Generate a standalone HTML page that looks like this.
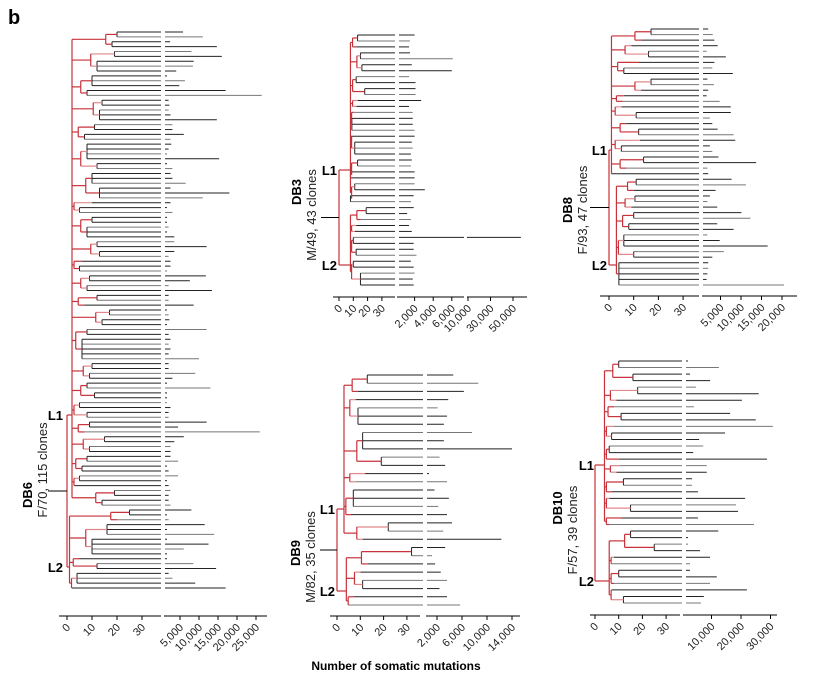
<!DOCTYPE html>
<html><head><meta charset="utf-8"><style>
html,body{margin:0;padding:0;background:#fff;}
svg{display:block;font-family:"Liberation Sans",Arial,sans-serif;}
</style></head><body>
<svg id="fig" width="824" height="684" viewBox="0 0 824 684">
<text x="8" y="24" font-size="20" font-weight="bold">b</text>
<text x="396" y="670" font-size="12" font-weight="bold" text-anchor="middle">Number of somatic mutations</text>
</svg>
<script>
// ---- data ----
const db6DepthRuns = [[20,2],[18,2],[19,2],[12,3],[10,3],[8,2],[14,2],[13,3],[11,2],[7,2],[8,4],[12,2],[10,3],[13,3],[10,1],[5,2],[10,2],[8,3],[12,2],[13,2],[6,1],[5,2],[9,2],[8,2],[12,2],[7,1],[17,2],[14,2],[8,2],[6,5],[10,2],[9,2],[8,2],[11,2],[5,2],[8,2],[9,2],[7,1],[15,2],[9,2],[8,2],[6,2],[5,2],[3,1],[19,2],[14,2],[25,2],[20,1],[16,3],[10,4],[5,1],[12,2],[4,3],[2,1]];
const db6L1 = 98;
const db6Right = [5.8,11,2.4,14.7,8,16,8.6,8.4,4,1.5,6.3,4.8,17,26.5,2,2.2,2,2.5,14.7,3,3,6,2.5,2.7,2,1.5,15.3,1,3,2.5,3,6.5,2.5,18,11,2.5,1,3,1.5,1.5,2,1.5,3.5,3.5,12,3.5,2,2.5,2.5,1.5,11.8,7.6,2,13.4,2,2,8.6,1.5,2,2.2,1.5,12,2,2.5,2,2.5,2,10,2,2,9,3,1.5,13,1,1.5,1,2.5,2,2,12,4.5,26,6,3.5,2.5,2.5,2.5,4.5,1.5,2,4.5,1,2,2.5,2,2,2.5,8,1,2,11.5,1,14,1,12.5,6,1.5,1,8.5,14.5,2,3,9,17];
const db3DepthRuns = [[13,2],[12,1],[15,2],[16,2],[12,2],[18,2],[13,1],[12,1],[10,1],[9,3],[8,1],[11,3],[13,2],[8,2],[11,2],[8,2],[19,2],[15,1],[12,1],[11,1],[10,2],[12,2],[10,2],[15,3]];
const db3L1 = 29;
const db3Right = [2.0,1.5,1.4,1.5,6.1,1.7,6.0,1.4,2.1,2.1,2.1,2.7,1.4,1.8,1.8,1.8,2.0,2.0,1.7,1.8,1.6,1.7,1.6,2.0,2.0,2.0,3.1,1.9,1.6,1.9,1.2,1.6,1.4,1.7,57,1.9,1.9,2.2,1.6,1.9,2.0,1.8,1.9];
const db8DepthRuns = [[17,2],[13,1],[9,1],[16,2],[12,1],[6,2],[17,2],[13,1],[6,1],[5.5,1],[5,1],[11,2],[7,1],[12,2],[12.5,1],[5,2],[14,2],[7,1],[1,1],[11,2],[10,1],[10.5,2],[9,1],[10,2],[8,2],[6,3],[10,2],[4,5]];
const db8L1 = 27;
const db8Right = [2,3.1,3.5,4.3,1.6,6.3,3.5,3,8,1.8,3.4,2,1.6,4.8,7.5,7.5,2.4,3,4.3,8.2,8.6,2.4,3,4.5,13.7,1.8,2.0,7.7,11.2,3.8,2.4,1.8,4.2,10.1,12.3,4.2,8.2,1.8,4.8,16.5,5.8,3,2,2,1.8,1.6,20.5];
const db9DepthRuns = [[13,2],[9,1],[8,1],[9,3],[11,3],[19,2],[12,1],[8,1],[7,3],[6,1],[22,2],[11,1],[32,2],[13,1],[10,1],[11,2],[7,1],[5,1]];
const db9L1 = 21;
const db9Right = [4.6,8.6,6.3,3.8,2.1,3.6,3.1,7.6,3.1,14,2.4,3.3,0.5,3.6,1.6,3.9,2.2,3.6,4.4,3,12.3,3.3,1.2,1.7,2.6,3.6,2.4,3.6,5.7];
const db10DepthRuns = [[10,2],[16,2],[18,2],[9,1],[8,1],[11,2],[8,1],[7,2],[6,2],[10,1],[10.5,1],[9,1],[12,2],[7,1],[6,1],[15,2],[11,1],[6,1],[15,2],[25,2],[8,1],[7,1],[10,2],[8,1],[7,1],[12,2]];
const db10L1 = 26;
const db10Right = [1.9,12.5,2.7,9.5,4.7,26,20.3,4,16.3,25,30.8,14.6,5.8,7.2,3.8,28.8,8.4,8.4,3.4,3.4,5.4,21.4,18.3,19,5.4,24.4,12.3,1,1.6,6.1,9.5,2.7,2.7,11.8,9.5,22,7.4,6.4];
const leftTicks = [0,10,20,30];
const db6Ticks = [5000,10000,15000,20000,25000];
const db3MidTicks = [2000,4000,6000];
const db3BigTicks = [10000,30000,50000];
const db8Ticks = [5000,10000,15000,20000];
const db9Ticks = [2000,6000,10000,14000];
const db10Ticks = [10000,20000,30000];

// ---- drawing ----
const NS = "http://www.w3.org/2000/svg";
const svg = document.getElementById('fig');
function mk(tag, attrs, parent){
  const e = document.createElementNS(NS, tag);
  for (const k in attrs) e.setAttribute(k, attrs[k]);
  (parent||svg).appendChild(e);
  return e;
}
function expand(runs){ const out=[]; runs.forEach(r=>{for(let i=0;i<r[1];i++) out.push(r[0]);}); return out; }
function fmt(v){ return v.toLocaleString('en-US'); }
const RED = "#c8323a", RED2 = "#e2878a";

function panel(c){
  const g = mk('g', {});
  
  
  const depths = expand(c.runs);
  const n = depths.length;
  const xd = d => c.x0 + d * c.ppu;
  const xr = v => c.r0 + v * c.ppk;
  const ys = i => c.yTop + i * (c.yBot - c.yTop) / (n - 1);
  for (let i=0;i<n;i++){
    const y = ys(i);
    const col = i%3===1 ? "#777" : "#222";
    const l = mk('line', {x1:xd(depths[i]), x2:c.brk-1, y1:y, y2:y, stroke:col, 'stroke-width':1}, g);
    
    
    const v = c.right[i];
    let end;
    if (c.big && v > c.bigFrom){
      mk('line', {x1:c.brk+3, x2:c.midEnd, y1:y, y2:y, stroke:"#222"}, g);
      end = c.bigX(v);
      const s = mk('line', {x1:c.bigStart, x2:end, y1:y, y2:y, stroke:"#222"}, g);
      
      
    } else {
      end = Math.max(xr(v), c.brk+5);
      const s = mk('line', {x1:c.brk+3, x2:end, y1:y, y2:y, stroke:col}, g);
      
      
    }
  }
  const clades = [{from:0,to:c.nL1,cd:c.cd1,ly:c.L1y},{from:c.nL1,to:n,cd:c.cd2,ly:c.L2y}];
  clades.forEach(cl=>{
    let i=cl.from; const runs=[];
    while(i<cl.to){
      let j=i; while(j+1<cl.to && depths[j+1]===depths[i]) j++;
      const x = xd(depths[i]);
      if (j>i) mk('line', {x1:x,x2:x,y1:ys(i),y2:ys(j),stroke:"#222"}, g);
      runs.push({d:depths[i], m:(ys(i)+ys(j))/2});
      i=j+1;
    }
    const mids=[cl.ly];
    for (let k=0;k<runs.length;k+=2){
      const a=runs[k], b=runs[k+1];
      if (!b){
        if (a.d>cl.cd) mk('line',{x1:xd(cl.cd),x2:xd(a.d),y1:a.m,y2:a.m,stroke:RED,'stroke-width':1.2},g);
        mids.push(a.m); continue;
      }
      const p = Math.max(cl.cd+0.8, Math.min(a.d,b.d)-2.5);
      [a,b].forEach(r=>{ if (r.d>p) mk('line',{x1:xd(p),x2:xd(r.d),y1:r.m,y2:r.m,stroke:(k%4? RED2:RED),'stroke-width':1.2},g); });
      mk('line',{x1:xd(p),x2:xd(p),y1:a.m,y2:b.m,stroke:RED,'stroke-width':1.2},g);
      const pm=(a.m+b.m)/2;
      mk('line',{x1:xd(cl.cd),x2:xd(p),y1:pm,y2:pm,stroke:RED,'stroke-width':1.2},g);
      mids.push(pm);
    }
    const sp = mk('line', {x1:xd(cl.cd),x2:xd(cl.cd),y1:Math.min(...mids),y2:Math.max(...mids),stroke:RED,'stroke-width':1.2}, g);
    
    
    mk('line', {x1:xd(0),x2:xd(cl.cd),y1:cl.ly,y2:cl.ly,stroke:RED,'stroke-width':1.2}, g);
  });
  const root = mk('line', {x1:xd(0),x2:xd(0),y1:c.L1y,y2:c.L2y,stroke:RED,'stroke-width':1.2}, g);
  
  
  const my=(c.L1y+c.L2y)/2;
  mk('line', {x1:c.stubX,x2:xd(0),y1:my,y2:my,stroke:"#000"}, g);
  function axis(xa, xb, ticks, fx, lab){
    const a = mk('line', {x1:xa,x2:xb,y1:c.axY,y2:c.axY,stroke:"#000"}, g);
    
    
    ticks.forEach(t=>{
      const x = fx(t);
      mk('line', {x1:x,x2:x,y1:c.axY,y2:c.axY+4,stroke:"#000"}, g);
      const tx = mk('text', {x:x+4,y:c.axY+12,'font-size':11,'text-anchor':'end',transform:`rotate(-45 ${x+4} ${c.axY+12})`,fill:"#222"}, g);
      tx.textContent = lab(t);
      
      
    });
  }
  axis(c.ax[0], c.ax[1], leftTicks, xd, t=>String(t));
  axis(c.ax[2], c.ax[3], c.ticks, t=>xr(t/1000), fmt);
  if (c.big) axis(c.bigStart, c.bigEnd, db3BigTicks, t=>c.bigX(t/1000), fmt);
  function txt(s, x, y, opts, nm){
    const t = mk('text', Object.assign({x:x,y:y,'font-size':13}, opts), g);
    t.textContent = s;
    
    
  }
  txt('L1', c.lx, c.L1y+5, {'font-weight':'bold','text-anchor':'end'}, c.name+'-l1-label');
  txt('L2', c.lx, c.L2y+5, {'font-weight':'bold','text-anchor':'end'}, c.name+'-l2-label');
  txt(c.title, c.tx, c.ty, {'font-weight':'bold','text-anchor':'middle',transform:`rotate(-90 ${c.tx} ${c.ty})`}, c.name+'-title');
  txt(c.sub, c.sx, c.sy, {'text-anchor':'middle',transform:`rotate(-90 ${c.sx} ${c.sy})`,fill:"#222"}, c.name+'-subtitle');
}

panel({name:'db6', runs:db6DepthRuns, nL1:db6L1, right:db6Right, x0:67, ppu:2.5, brk:162, r0:161, ppk:3.8,
  yTop:32, yBot:588, cd1:2, cd2:1, L1y:415, L2y:567, stubX:48, axY:616, ax:[59,161,164,267], ticks:db6Ticks,
  lx:63, title:'DB6', tx:32, ty:495, sub:'F/70, 115 clones', sx:47, sy:470});
panel({name:'db3', runs:db3DepthRuns, nL1:db3L1, right:db3Right, x0:339, ppu:1.43, brk:396, r0:396, ppk:9.3,
  yTop:35, yBot:285, cd1:8, cd2:8, L1y:170, L2y:265, stubX:321, axY:297, ax:[333,395,397,464], ticks:db3MidTicks,
  big:true, bigFrom:6.8, midEnd:464, bigStart:467, bigEnd:527, bigX:v=>468+(v-10)*1.125,
  lx:337, title:'DB3', tx:301, ty:192, sub:'M/49, 43 clones', sx:316, sy:215});
panel({name:'db8', runs:db8DepthRuns, nL1:db8L1, right:db8Right, x0:609, ppu:2.47, brk:700, r0:700, ppk:4.1,
  yTop:29, yBot:285, cd1:1, cd2:3, L1y:150, L2y:265, stubX:590, axY:296, ax:[600,699,702,797], ticks:db8Ticks,
  lx:607, title:'DB8', tx:572, ty:210, sub:'F/93, 47 clones', sx:587, sy:210});
panel({name:'db9', runs:db9DepthRuns, nL1:db9L1, right:db9Right, x0:337, ppu:2.33, brk:424, r0:424.5, ppk:6.25,
  yTop:375, yBot:605, cd1:3, cd2:4, L1y:509, L2y:591, stubX:320, axY:616, ax:[330,420,426,520], ticks:db9Ticks,
  lx:335, title:'DB9', tx:300, ty:553, sub:'M/82, 35 clones', sx:315, sy:557});
panel({name:'db10', runs:db10DepthRuns, nL1:db10L1, right:db10Right, x0:595, ppu:2.37, brk:683, r0:682, ppk:2.95,
  yTop:361, yBot:603, cd1:4, cd2:6, L1y:465, L2y:581, stubX:595, axY:615, ax:[590,680,683,777], ticks:db10Ticks,
  lx:594, title:'DB10', tx:562, ty:508, sub:'F/57, 39 clones', sx:577, sy:530});
</script>
</body></html>
